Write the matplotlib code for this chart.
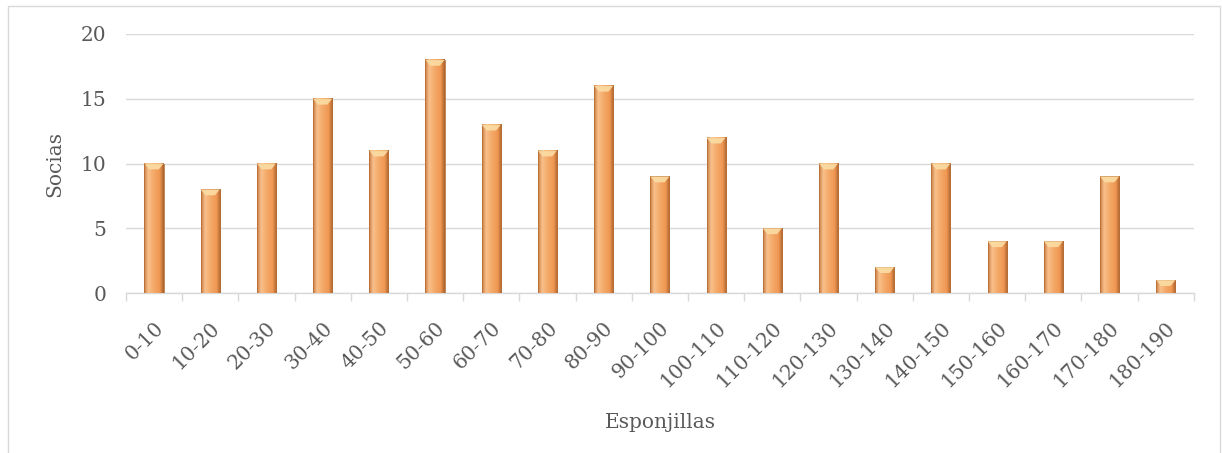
import numpy as np
import matplotlib.pyplot as plt
from matplotlib.colors import LinearSegmentedColormap
from matplotlib.patches import Rectangle, Polygon

rangos = ['0-10', '10-20', '20-30', '30-40', '40-50', '50-60', '60-70', '70-80',
          '80-90', '90-100', '100-110', '110-120', '120-130', '130-140', '140-150',
          '150-160', '160-170', '170-180', '180-190']
socias = [10, 8, 10, 15, 11, 18, 13, 11, 16, 9, 12, 5, 10, 2, 10, 4, 4, 9, 1]

gris = '#595959'
linea = '#D9D9D9'
plt.rcParams['font.family'] = ['DejaVu Serif']

fig = plt.figure(figsize=(12.22, 4.53), dpi=100)
ax = fig.add_axes([0.103, 0.353, 0.874, 0.572])

# degradado horizontal tipo cilindro para cada barra
cmap = LinearSegmentedColormap.from_list('naranja', [
    (0.0, '#C97A3E'), (0.2, '#F7C08C'), (0.45, '#F5AC6C'),
    (0.8, '#EF9652'), (1.0, '#A8622C')])
grad = np.linspace(0, 1, 64).reshape(1, -1)
ancho = 0.34
x = np.arange(len(rangos))
for xi, v in zip(x, socias):
    izq, der = xi - ancho / 2, xi + ancho / 2
    ax.imshow(grad, cmap=cmap, aspect='auto', extent=[izq, der, 0, v],
              origin='lower', zorder=3, interpolation='bilinear')
    ax.add_patch(Rectangle((izq, 0), ancho, v, fill=False, edgecolor='#B87038',
                           linewidth=0.6, zorder=4))
    # bisel superior
    cap = min(0.45, v * 0.5)
    ax.add_patch(Polygon([(izq, v), (der, v), (xi + ancho * 0.25, v - cap),
                          (xi - ancho * 0.25, v - cap)],
                         closed=True, facecolor='#FBDDA4', edgecolor='none',
                         alpha=0.9, zorder=4))

ax.set_xlim(-0.5, len(rangos) - 0.5)
ax.set_ylim(0, 20)
ax.set_yticks([0, 5, 10, 15, 20])
ax.yaxis.grid(True, color=linea, linewidth=1)
ax.set_axisbelow(True)

ax.set_xticks(x)
ax.set_xticklabels(rangos, rotation=45, ha='right', rotation_mode='anchor')
ax.set_xticks(np.arange(-0.5, len(rangos)), minor=True)
ax.tick_params(axis='x', which='major', length=0, pad=18, labelsize=14.5, colors=gris)
ax.tick_params(axis='x', which='minor', length=6, color=linea, width=1)
ax.tick_params(axis='y', length=0, pad=14, labelsize=14.5, colors=gris)

for s in ['top', 'right', 'left']:
    ax.spines[s].set_visible(False)
ax.spines['bottom'].set_color(linea)
ax.spines['bottom'].set_linewidth(1)

ax.set_ylabel('Socias', fontsize=14.5, color=gris, labelpad=12)
ax.set_xlabel('Esponjillas', fontsize=14.5, color=gris, labelpad=16)

# marco del gráfico
fig.patches.append(Rectangle((8 / 1222, -0.1), 1212 / 1222, 1.1 - 6 / 453,
                             transform=fig.transFigure, fill=False,
                             edgecolor='#D9D9D9', linewidth=1))

fig.savefig('out.png', dpi=100)
